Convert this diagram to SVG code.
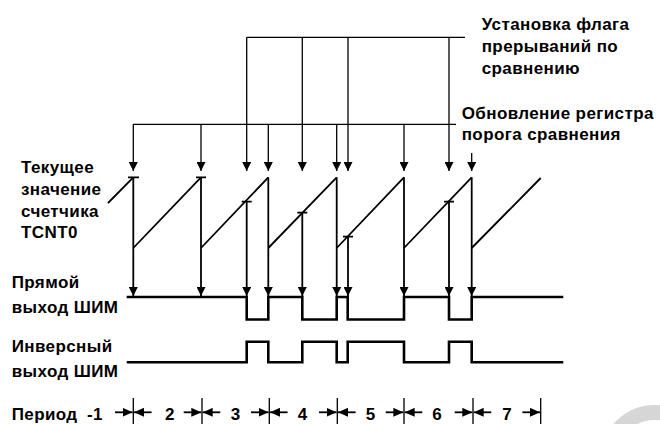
<svg xmlns="http://www.w3.org/2000/svg" width="660" height="424" viewBox="0 0 660 424">
<style>
.t{font-family:"Liberation Sans",Arial,sans-serif;font-weight:bold;font-size:17px;letter-spacing:0.4px;fill:#000}
.c{stroke:#000;stroke-width:1.3;fill:none}
.v{stroke:#000;stroke-width:1.8;fill:none}
.p{stroke:#000;stroke-width:2.6;fill:none;stroke-linejoin:miter}
.k{stroke:#000;stroke-width:1.8;fill:none}
</style>
<defs>
<marker id="ah" viewBox="0 0 10 10" refX="10" refY="5" markerWidth="9" markerHeight="9" markerUnits="userSpaceOnUse" orient="auto"><path d="M0,0 L10,5 L0,10 z" fill="#000"/></marker>
<marker id="ps" viewBox="0 0 10 10" refX="10" refY="5" markerWidth="10" markerHeight="9" markerUnits="userSpaceOnUse" orient="auto" preserveAspectRatio="none"><path d="M0,0 L10,5 L0,10 z" fill="#000"/></marker>
</defs>
<rect width="660" height="424" fill="#fff"/>
<circle cx="655" cy="460" r="47.5" fill="none" stroke="#d6d6d6" stroke-width="15"/>

<g id="label-flag">
<text class="t" x="481.7" y="29.5">Установка флага</text>
<text class="t" x="481.7" y="52">прерываний по</text>
<text class="t" x="481.7" y="74">сравнению</text>
</g>
<g id="label-update">
<text class="t" x="461.7" y="118.5">Обновление регистра</text>
<text class="t" x="461.7" y="139.5">порога сравнения</text>
</g>

<g id="connectors">
<path class="c" d="M246.7,37.3 H465 M133.3,124.3 H456"/>
<g class="c" marker-end="url(#ah)">
<path d="M246.7,37.3 V171"/>
<path d="M302.3,37.3 V171"/>
<path d="M348,37.3 V171"/>
<path d="M449,37.3 V171"/>
<path d="M133.3,124.3 V171"/>
<path d="M201,124.3 V171"/>
<path d="M268.3,124.3 V171"/>
<path d="M336.7,124.3 V171"/>
<path d="M404,124.3 V171"/>
<path d="M471.7,153 V171"/>
</g>
<g class="v" marker-end="url(#ah)">
<path d="M133.3,177.3 V296"/>
<path d="M201,177.3 V296"/>
<path d="M246.7,201.7 V296"/>
<path d="M268.3,177.3 V296"/>
<path d="M302.3,212.7 V296"/>
<path d="M336.7,177.3 V296"/>
<path d="M348,236.7 V296"/>
<path d="M404,177.3 V296"/>
<path d="M449,201.7 V296"/>
<path d="M471.7,177.3 V296"/>
</g>
</g>

<g id="counter">
<text class="t" x="21" y="173.3">Текущее</text>
<text class="t" x="21" y="195">значение</text>
<text class="t" x="21" y="216.7">счетчика</text>
<text class="t" x="21" y="238">TCNT0</text>
<path class="v" d="M108,203 L133.3,177.3 M133.3,248 L201,177.3 M201,248 L268.3,177.3 M268.3,248 L336.7,177.3 M336.7,248 L404,177.3 M404,248 L471.7,177.3 M471.7,248 L540.7,178"/>
<path class="v" d="M128,177.3 H139 M196,177.3 H206 M241.7,201.7 H251.7 M297.3,212.7 H307.3 M343,236.7 H353 M444,201.7 H454"/>
</g>

<g id="pwm-direct">
<text class="t" x="11.7" y="288">Прямой</text>
<text class="t" x="11.7" y="313.3">выход ШИМ</text>
<path class="p" d="M126.7,297 H246.7 V319.5 H268.3 V297 H302.3 V319.5 H336.7 V297 H347.7 V319.5 H404 V297 H449 V319.5 H471.7 V297 H563.3"/>
</g>

<g id="pwm-inverse">
<text class="t" x="11.7" y="351.7">Инверсный</text>
<text class="t" x="11.7" y="376.7">выход ШИМ</text>
<path class="p" d="M126.7,362.3 H246.7 V341.7 H268.3 V362.3 H302.3 V341.7 H336.7 V362.3 H347.7 V341.7 H404 V362.3 H449 V341.7 H471.7 V362.3 H563.3"/>
</g>

<g id="periods">
<text class="t" x="11.7" y="419.5">Период</text>
<g class="t" text-anchor="middle">
<text x="95" y="420">-1</text>
<text x="170" y="420">2</text>
<text x="235.7" y="420">3</text>
<text x="302.7" y="420">4</text>
<text x="370.7" y="420">5</text>
<text x="437.3" y="420">6</text>
<text x="507.3" y="420">7</text>
</g>
<path class="c" d="M133.3,398 V424 M202,398 V424 M269.3,398 V424 M337.3,398 V424 M404,398 V424 M473,398 V424 M540.7,398 V424"/>
<g class="k" marker-end="url(#ps)">
<path d="M115,412.3 H132.6"/><path d="M151.6,412.3 H134"/>
<path d="M183.7,412.3 H201.3"/><path d="M220.3,412.3 H202.7"/>
<path d="M251,412.3 H268.6"/><path d="M287.6,412.3 H270"/>
<path d="M319,412.3 H336.6"/><path d="M355.6,412.3 H338"/>
<path d="M385.7,412.3 H403.3"/><path d="M422.3,412.3 H404.7"/>
<path d="M454.7,412.3 H472.3"/><path d="M491.3,412.3 H473.7"/>
<path d="M522.4,412.3 H540"/>
</g>
</g>
</svg>
